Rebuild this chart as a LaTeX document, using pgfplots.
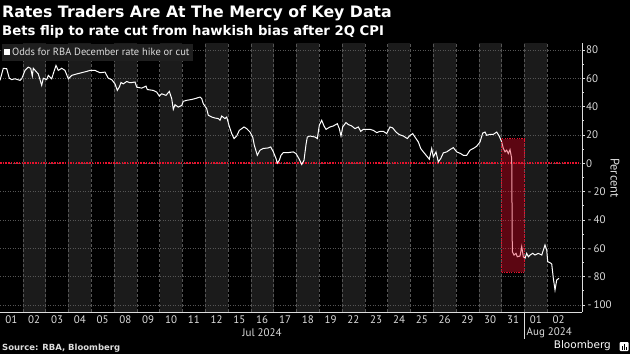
\documentclass[border=0pt]{standalone}
\usepackage{pgfplots}
\pgfplotsset{compat=1.18}
\usepackage{fontspec}
\setmainfont{DejaVu Sans}
\newfontfamily\ptsans{PT Sans}
\definecolor{stripe}{HTML}{1B1B1B}
\definecolor{legbg}{HTML}{1F1F1F}
\definecolor{gridc}{HTML}{555555}
\definecolor{bred}{HTML}{E8112D}
\definecolor{txt}{HTML}{DDDDDD}
\pgfplotstableread{
x y
0 58.5
3.3 67
6.7 66.7
9.3 60
11.7 59
15 59.6
20 58.5
21.7 59.6
25 65.5
28.3 67.8
30.7 67
32.3 61.5
33.3 67
38.3 63
41.7 55
43.3 60
46.7 59
48.3 62
51.7 59.6
54 64.8
56 69
58.3 65.5
61.7 67
65 65.5
68.3 59.6
71.7 62
76.7 63
81.7 63.9
86.7 64.8
90 65.5
95 65.5
100 63.9
105 64.3
108.3 60
111.7 59
115 56
117.3 51.4
119.5 54
121 57
123.3 56
126.7 57.7
130 56.8
135 57.3
136.7 53.7
141.7 53
146 54.4
147.3 52
153.3 51.4
156.7 50.2
159.3 47.4
161.7 49
166 47.9
169.3 50.7
171.7 45.6
173.3 38
175 41.3
178.3 39.6
181.7 40.8
183.3 43.7
186.7 44.4
191.7 45
195 45.6
200 46.7
201.7 45.6
203.3 42
206.7 38.5
208.3 33.8
211.7 32.6
215 31.9
218.3 31.5
220 30.3
221.7 33.3
225 31.5
226.7 32.6
229.3 26
231.7 20.9
234 17.4
236.7 19.2
239.3 23.2
241.7 24.4
244 25.6
246.7 24.4
250 22
252.7 18.5
254.3 12.7
257.3 5.6
260 9.2
263.3 10.4
268.3 10.8
270.7 11.5
273.3 8
276 3.3
277.3 0
279.3 2.1
281 5.6
283.3 7.5
288.3 7.5
293.3 8
296 6.8
299.3 2.8
301.7 -0.9
304 2.1
306 13.2
307.3 18.5
310 19.2
315 18.5
317.3 17.4
319.3 26.8
321.7 30.3
324 26.3
326 23.9
330 25.6
333.3 26.3
337.3 27.9
339.3 24.4
341 19.2
342.7 25.6
346 28.7
348.3 27.3
351.7 26.3
355 24.4
358.3 25.6
360.7 22.5
363.3 23.9
366.7 23.9
370 23.9
373.3 23.2
376.7 21.6
380 22.5
383.3 22.5
386.7 20.9
390 25.6
392.7 24.9
396 22
399.3 20.2
403.3 19.2
407.3 17.4
409.3 19.2
412.7 20.9
416 17.4
418.3 15
420.7 10.4
423.3 8
426.7 5.1
429.3 2.8
431.7 10.4
433.3 4.4
436 8
438.3 0.9
440.7 3.3
443.3 7.3
446.7 8
450 9.6
453.3 11
456.7 8
460.7 6.8
463.3 5.6
466.7 5.6
470 9.2
473.3 10.4
476.7 12
480 15
482.7 21.3
485 22
486.7 19.7
490 20.4
493.3 20.4
496.7 22
499.3 19
501.7 15
503.3 10.4
505 8
506.7 9.2
508.3 6.8
510 9.6
511.7 3.3
512.3 -62.5
514 -64.8
516 -63.6
517.3 -66
520 -65.5
521.7 -58.9
523.3 -66
525 -67.1
526.7 -63.6
528.3 -66
530 -64.8
532.7 -63.6
535 -64.8
538.3 -63.6
541.7 -64.8
545 -57.7
546.7 -61.3
547.7 -69.5
550 -70.2
551.7 -71.1
553.3 -81.2
555 -89.4
556.7 -82.4
559 -81.2
}\odds
\newcommand{\neglab}[1]{\hspace*{1.5bp}\char"2D\hspace*{2bp}#1}
\begin{document}
\begin{tikzpicture}[x=1bp,y=1bp]
\begin{axis}[
  at={(0,0)}, anchor=south west,
  scale only axis, width=582bp, height=268.5bp,
  xmin=0, xmax=582, ymin=-105, ymax=84.5,
  set layers,
  axis x line*=bottom, axis y line*=right,
  axis line style={-, draw=txt, line width=0.8pt},
  xtick={11.4,34.2,57,79.8,102.6,125.4,148.2,171,193.8,216.6,239.4,262.2,285,307.8,330.6,353.4,376.2,399,421.8,444.6,467.4,490.2,513,535.8,558.6},
  xticklabels={01,02,03,04,05,08,09,10,11,12,15,16,17,18,19,22,23,24,25,26,29,30,31,01,02},
  minor xtick={22.8,45.6,68.4,91.2,114,136.8,159.6,182.4,205.2,228,250.8,273.6,296.4,319.2,342,364.8,387.6,410.4,433.2,456,478.8,501.6,524.4,547.2},
  xtick style={draw=none},
  minor x tick style={draw=none},
  xminorgrids=true,
  minor x grid style={gridc, dash pattern=on 3bp off 2bp, line width=0.6pt},
  ytick={-100,-80,-60,-40,-20,0,20,40,60,80},
  yticklabels={{\neglab{100}},{\neglab{80}},{\neglab{60}},{\neglab{40}},{\neglab{20}},0,20,40,60,80},
  minor y tick num=1,
  ymajorgrids=true,
  major y grid style={gridc, dash pattern=on 1bp off 1.5bp, line width=0.6pt},
  tick align=outside,
  major tick length=3bp, minor tick length=1.6bp,
  y tick style={txt, line width=0.6pt},
  xticklabel style={font=\ptsans\fontsize{11}{13}\selectfont, text=txt, inner sep=0pt},
  yticklabel style={font=\ptsans\fontsize{11}{13}\selectfont, text=txt, inner sep=1pt},
  legend style={at={(0.003,1)}, anchor=north west, fill=legbg, draw=none,
    text=txt, font=\ptsans\fontsize{10.5}{12}\selectfont, inner xsep=2bp, inner ysep=2bp},
  legend image code/.code={\fill[white] (0bp,-2.6bp) rectangle (5.2bp,2.6bp);},
  clip=false,
]
\begin{pgfonlayer}{axis background}
\fill[black] (axis cs:0,-134.7) rectangle (axis cs:630,115.3);
\fill[stripe] (axis cs:22.8,-105) rectangle (axis cs:45.6,84.5);
\fill[stripe] (axis cs:68.4,-105) rectangle (axis cs:91.2,84.5);
\fill[stripe] (axis cs:114,-105) rectangle (axis cs:136.8,84.5);
\fill[stripe] (axis cs:159.6,-105) rectangle (axis cs:182.4,84.5);
\fill[stripe] (axis cs:205.2,-105) rectangle (axis cs:228,84.5);
\fill[stripe] (axis cs:250.8,-105) rectangle (axis cs:273.6,84.5);
\fill[stripe] (axis cs:296.4,-105) rectangle (axis cs:319.2,84.5);
\fill[stripe] (axis cs:342,-105) rectangle (axis cs:364.8,84.5);
\fill[stripe] (axis cs:387.6,-105) rectangle (axis cs:410.4,84.5);
\fill[stripe] (axis cs:433.2,-105) rectangle (axis cs:456,84.5);
\fill[stripe] (axis cs:478.8,-105) rectangle (axis cs:501.6,84.5);
\fill[stripe] (axis cs:524.4,-105) rectangle (axis cs:547.2,84.5);
\end{pgfonlayer}
\addplot[bred, line width=1.5bp, dash pattern=on 1.5bp off 1.2bp, forget plot] coordinates {(0,0) (580,0)};
\addplot[white, line width=1bp] table[x=x,y=y] {\odds};
\addlegendentry{Odds for RBA December rate hike or cut}
\draw[bred, line width=1.2bp, dash pattern=on 1.2bp off 1.2bp, fill=bred, fill opacity=0.4] (axis cs:501.6,-77) rectangle (axis cs:524.4,17.4);
\end{axis}
\node[anchor=base west, text=white, font=\bfseries\fontsize{15.8}{18}\selectfont, inner sep=0] at (2,294.7) {Rates Traders Are At The Mercy of Key Data};
\node[anchor=base west, text=white, font=\bfseries\fontsize{13.3}{15}\selectfont, inner sep=0] at (2,277) {Bets flip to rate cut from hawkish bias after 2Q CPI};
\node[text=txt, font=\ptsans\fontsize{11}{13}\selectfont, inner sep=0] at (262,-20.7) {Jul 2024};
\node[anchor=west, text=txt, font=\ptsans\fontsize{11}{13}\selectfont, inner sep=0] at (526.5,-20.7) {Aug 2024};
\draw[txt, line width=0.6bp] (524.4,0) -- (524.4,-27);
\node[rotate=-90, text=txt, font=\ptsans\fontsize{12.5}{14}\selectfont, inner sep=0] at (615,134) {Percent};
\node[anchor=base west, text=txt, font=\bfseries\fontsize{8.5}{10}\selectfont, inner sep=0] at (2,-38) {Source: RBA, Bloomberg};
\node[anchor=east, text=white, font=\fontsize{10.5}{12}\selectfont, inner sep=0] at (611,-34) {Bloomberg};
\fill[white, rounded corners=1bp] (619.5,-39) rectangle (628.5,-30);
\fill[black] (621.5,-37.5) rectangle (622.5,-34);
\fill[black] (623.5,-37.5) rectangle (624.5,-32);
\fill[black] (625.5,-37.5) rectangle (626.5,-35);
\pgfresetboundingbox
\useasboundingbox (0,-42) rectangle (630,312);
\end{tikzpicture}
\end{document}
